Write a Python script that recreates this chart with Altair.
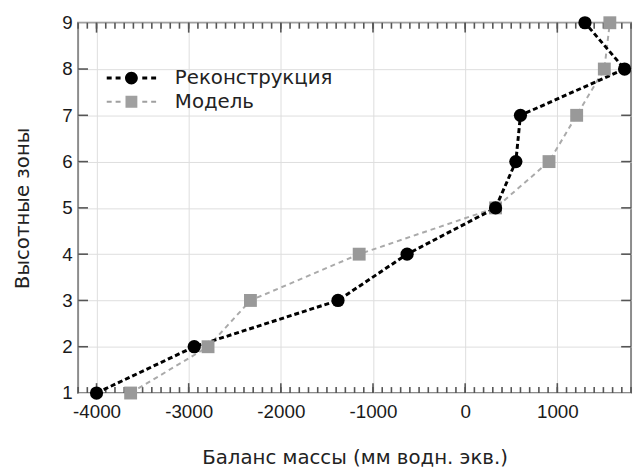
import altair as alt
import pandas as pd

# ---- data ----
zones = [1, 2, 3, 4, 5, 6, 7, 8, 9]
reconstruction = [-4000, -2940, -1380, -630, 330, 550, 600, 1730, 1300]
model = [-3630, -2790, -2330, -1150, 330, 910, 1210, 1510, 1570]
series_names = ["Реконструкция", "Модель"]

x_major = [-4000, -3000, -2000, -1000, 0, 1000]
x_minor = list(range(-4200, 1801, 100))
y_ticks = [2, 3, 4, 5, 6, 7, 8]

W, H = 560, 375
XDOM = [-4200, 1800]
YDOM = [1, 9]

px_x = (XDOM[1] - XDOM[0]) / W
px_y = (YDOM[1] - YDOM[0]) / H

# one table: the two series plus the inward frame ticks (start/end in data units)
rows = []
for i, z in enumerate(zones):
    rows.append({"kind": "data", "series": series_names[0], "zone": z, "balance": reconstruction[i]})
    rows.append({"kind": "data", "series": series_names[1], "zone": z, "balance": model[i]})


def add_xticks(vals, length):
    for v in vals:
        for y0, sgn in ((YDOM[0], 1), (YDOM[1], -1)):
            rows.append({"kind": "tick", "x0": v, "x1": v, "y0": y0, "y1": y0 + sgn * length * px_y})


def add_yticks(vals, length):
    for v in vals:
        for x0, sgn in ((XDOM[0], 1), (XDOM[1], -1)):
            rows.append({"kind": "tick", "y0": v, "y1": v, "x0": x0, "x1": x0 + sgn * length * px_x})


add_xticks(x_minor, 6)
add_xticks(x_major, 10)
add_yticks(y_ticks, 10)

df = pd.DataFrame(rows)

xs = alt.Scale(domain=XDOM, nice=False, zero=False)
ys = alt.Scale(domain=YDOM, nice=False, zero=False)

x_enc = alt.X(
    "balance:Q",
    scale=xs,
    axis=alt.Axis(
        values=x_major,
        labelExpr="'' + datum.value",
        title="Баланс массы (мм водн. экв.)",
        titleY=71,
        titleBaseline="alphabetic",
        labelPadding=10,
    ),
)
y_enc = alt.Y(
    "zone:Q",
    scale=ys,
    axis=alt.Axis(
        values=zones,
        format="d",
        title="Высотные зоны",
        titleX=-50,
        titleY=H / 2,
        titleAngle=270,
        titleAlign="center",
        titleBaseline="alphabetic",
        labelPadding=6,
    ),
)

base = alt.Chart(df)
data_only = base.transform_filter(alt.datum.kind == "data")
recon_only = base.transform_filter(alt.datum.series == series_names[0])
model_only = base.transform_filter(alt.datum.series == series_names[1])

line_model = model_only.mark_line(color="#aaaaaa", strokeWidth=2, strokeDash=[5, 4]).encode(
    x=x_enc, y=y_enc, order=alt.Order("zone:Q")
)
line_recon = recon_only.mark_line(color="#000000", strokeWidth=3, strokeDash=[5, 3]).encode(
    x=x_enc, y=y_enc, order=alt.Order("zone:Q")
)
pts_model = model_only.mark_point(
    filled=True, opacity=1, size=170, shape="square", color="#999999", strokeWidth=0
).encode(x=x_enc, y=y_enc)
pts_recon = recon_only.mark_point(
    filled=True, opacity=1, size=180, shape="circle", color="#000000", strokeWidth=0
).encode(x=x_enc, y=y_enc)


# legend symbols: dash rectangles plus the marker, as filled custom paths
def dash_rects(h):
    segs = [(-2.5, -2.0), (-1.6, -1.1), (1.1, 1.6), (2.0, 2.5)]
    return "".join(
        "M%g,%gL%g,%gL%g,%gL%g,%gZ" % (a, -h, b, -h, b, h, a, h) for a, b in segs
    )


circle_path = "M0.65,0A0.65,0.65,0,1,1,-0.65,0A0.65,0.65,0,1,1,0.65,0Z"
square_path = "M-0.6,-0.6L0.6,-0.6L0.6,0.6L-0.6,0.6Z"

legend = alt.Legend(
    orient="none",
    legendX=44,
    legendY=46,
    title=None,
    padding=0,
    symbolSize=400,
    symbolOpacity=1,
    symbolStrokeWidth=0,
    labelOffset=34,
    rowPadding=4,
    labelLimit=400,
    labelFont="DejaVu Sans",
    labelFontSize=20,
    labelColor="#222222",
)

legend_layer = data_only.mark_point(filled=True, opacity=0, size=400, strokeWidth=0).encode(
    x=x_enc,
    y=y_enc,
    color=alt.Color(
        "series:N",
        scale=alt.Scale(domain=series_names, range=["#000000", "#a0a0a0"]),
        legend=legend,
    ),
    shape=alt.Shape(
        "series:N",
        scale=alt.Scale(
            domain=series_names,
            range=[dash_rects(0.15) + circle_path, dash_rects(0.1) + square_path],
        ),
        legend=legend,
    ),
)

tick_layer = (
    base.transform_filter(alt.datum.kind == "tick")
    .mark_rule(color="#555555", strokeWidth=1.6, opacity=1)
    .encode(
        x=alt.X("x0:Q", scale=xs),
        x2="x1:Q",
        y=alt.Y("y0:Q", scale=ys),
        y2="y1:Q",
    )
)

chart = (
    alt.layer(tick_layer, line_model, line_recon, pts_model, pts_recon, legend_layer)
    .properties(
        width=W,
        height=H,
        autosize=alt.AutoSizeParams(type="none"),
        padding={"left": 71, "top": 12, "right": 3, "bottom": 73},
    )
    .configure_view(stroke="#8c8c8c", strokeWidth=2)
    .configure_axis(
        grid=True,
        gridColor="#dddddd",
        gridWidth=1,
        domain=False,
        ticks=False,
        labelFont="Liberation Sans",
        labelFontSize=19,
        labelColor="#1a1a1a",
        titleFont="DejaVu Sans",
        titleFontSize=20,
        titleFontWeight="normal",
        titleColor="#222222",
    )
)

chart.save("out.html", embed_options={"renderer": "svg", "actions": False})
